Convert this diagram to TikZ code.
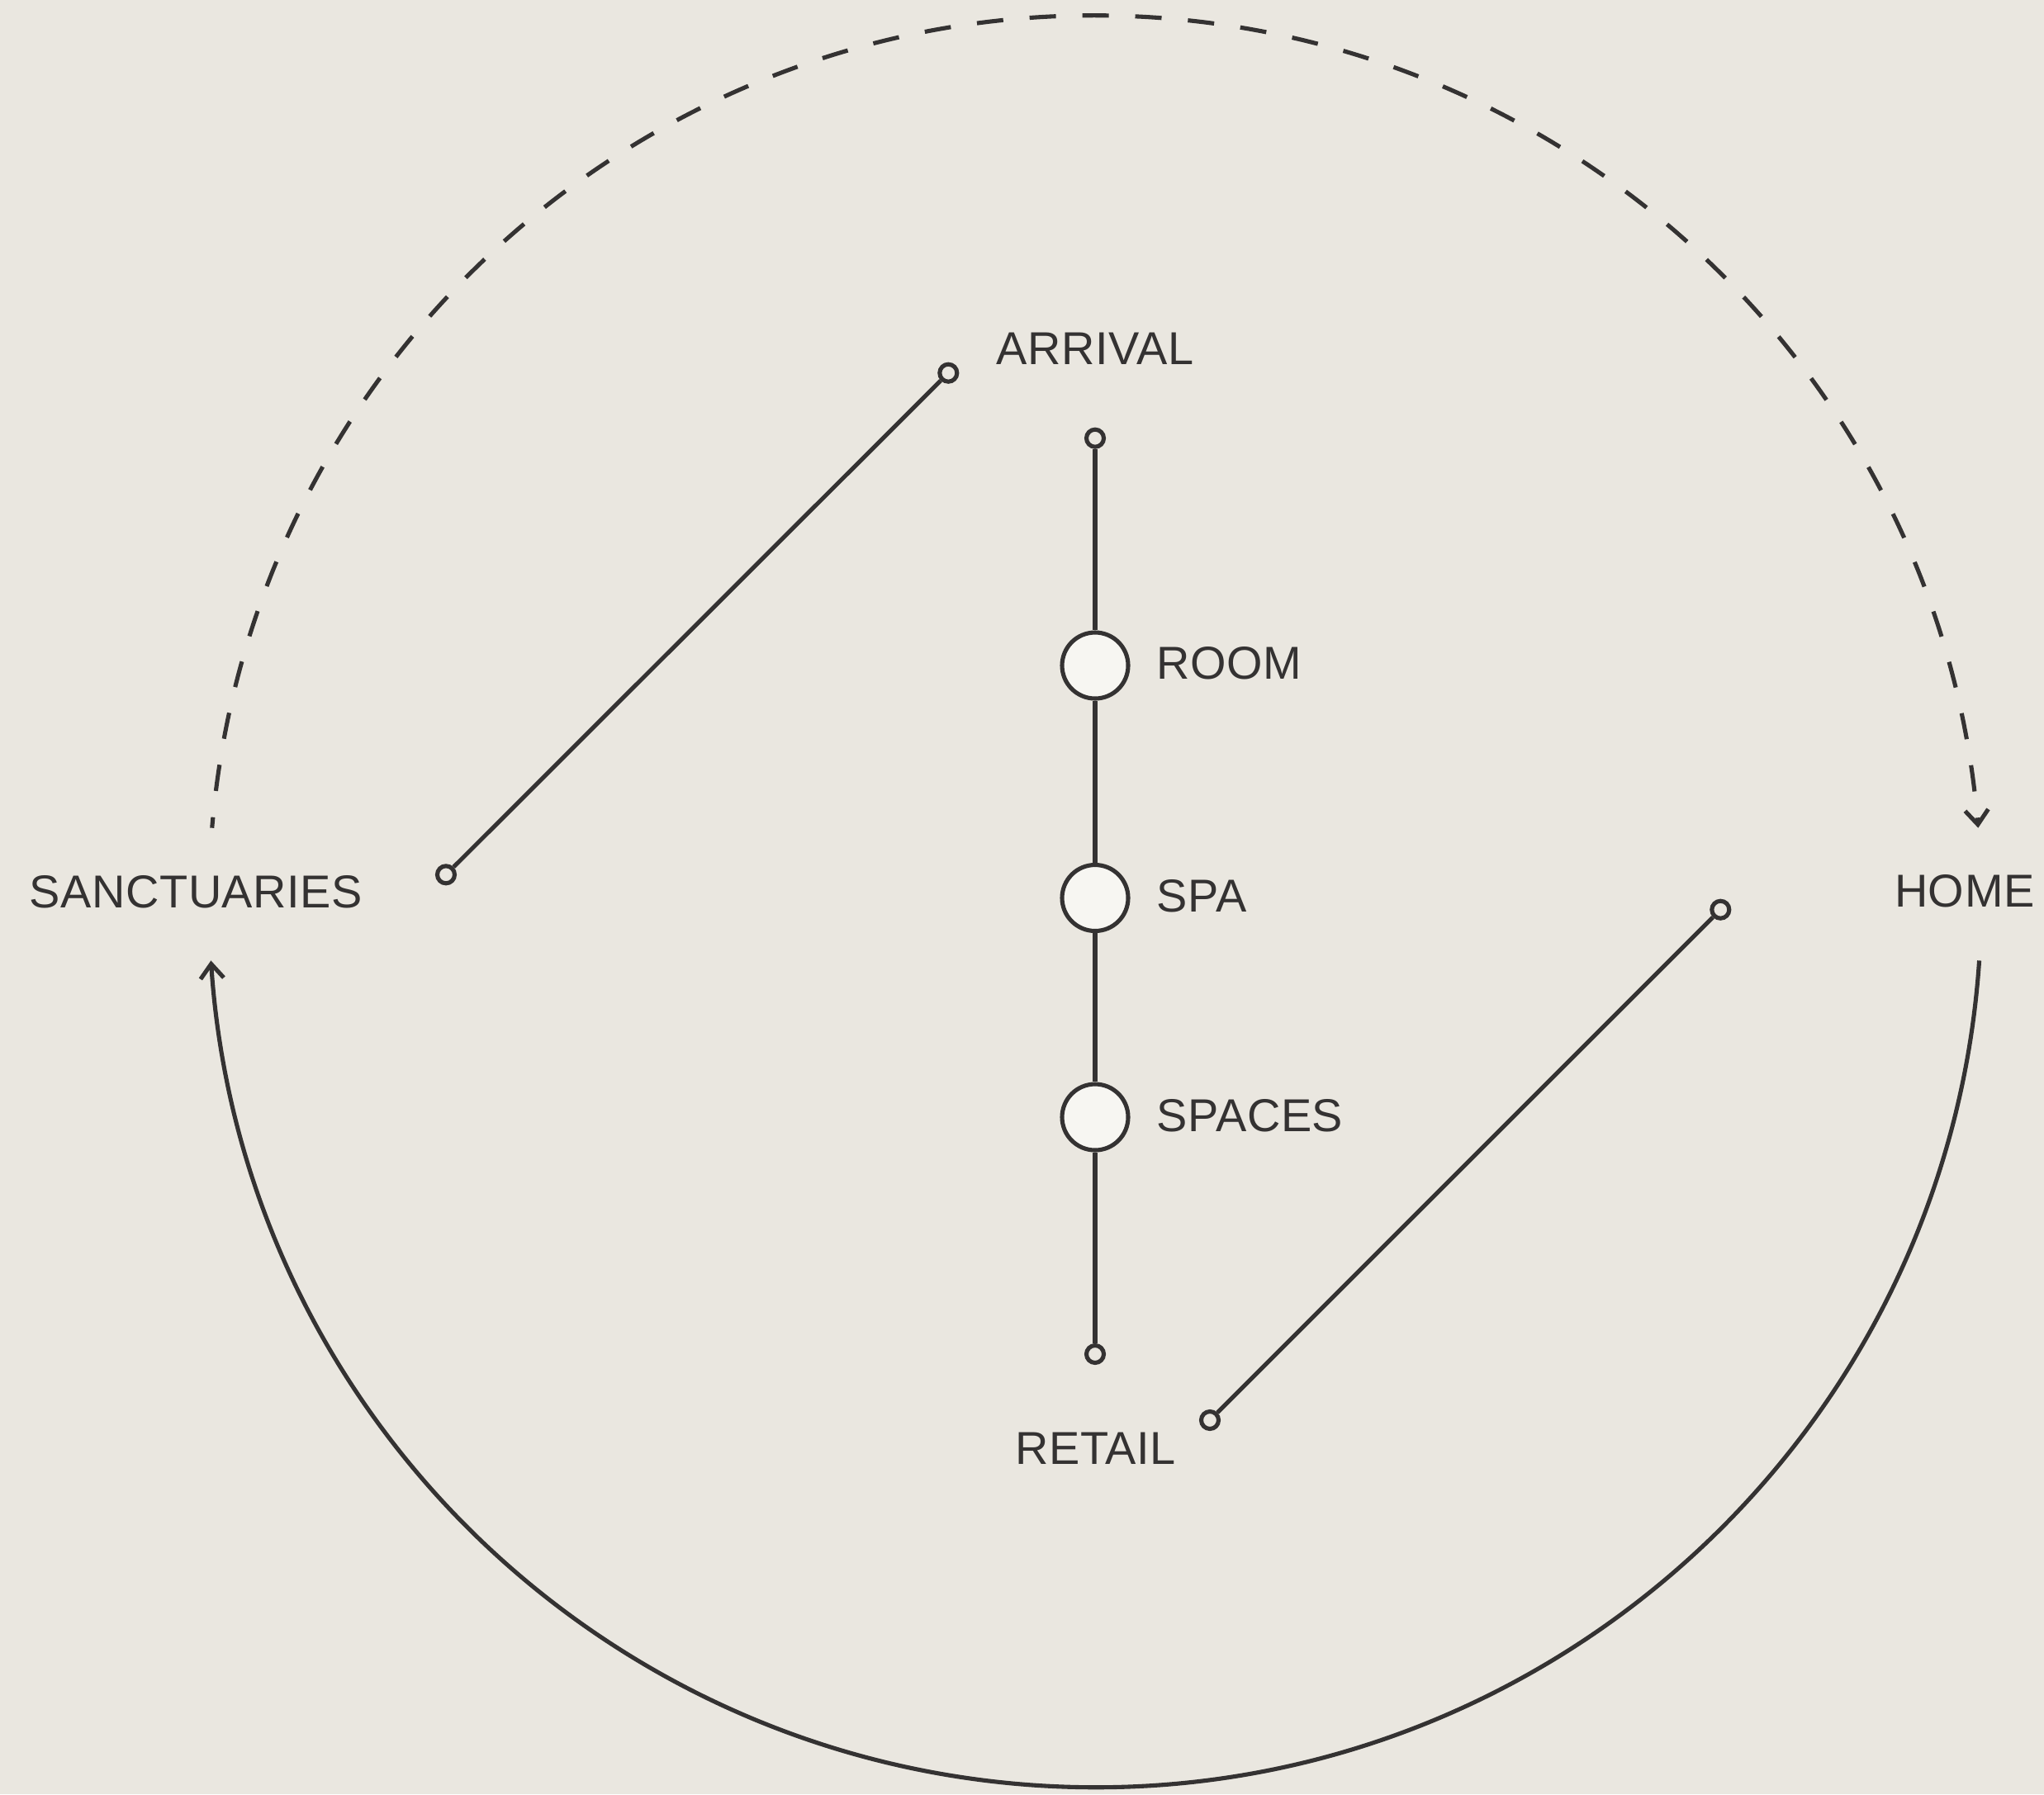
\documentclass[tikz,border=0pt]{standalone}
\usepackage{fontspec}
\setmainfont[LetterSpace=1.1]{Liberation Sans}
\usetikzlibrary{positioning, arrows.meta}

\definecolor{ink}{RGB}{52,50,50}
\definecolor{paper}{RGB}{234,231,224}
\definecolor{pearl}{RGB}{247,246,242}

\begin{document}
\begin{tikzpicture}[
  line width=1.45pt, color=ink,
  station/.style={circle, draw=ink, fill=pearl, minimum size=0.8cm, inner sep=0pt},
  enddot/.style={circle, draw=ink, fill=paper, minimum size=0.21cm, inner sep=0pt},
  lbl/.style={font=\fontsize{15.9}{19}\selectfont, text=ink, inner sep=0pt},
  arrowed/.style={-{Straight Barb[length=5pt, width=8pt]}},
  loopdash/.style={dash pattern=on 0.32cm off 0.32cm, dash phase=0.19cm},
]
  % Canvas
  \fill[paper] (0,0) rectangle (24.75,-21.73);
  \useasboundingbox (0,0) rectangle (24.75,-21.73);
  \coordinate (c) at (13.26,-10.917);

  % Spine of stations
  \node[enddot]  (dtop) at (13.26,-5.307) {};
  \node[station] (room) at (13.26,-8.06)  {};
  \node[station] (spa)  at (13.26,-10.875) {};
  \node[station] (spc)  at (13.26,-13.53) {};
  \node[enddot]  (dbot) at (13.26,-16.40) {};
  \draw (dtop) -- (room) -- (spa) -- (spc) -- (dbot);

  % Station labels
  \node[lbl, anchor=base west] (troom) at (13.98,-8.227)  {ROOM};
  \node[lbl, anchor=base west] (tspa)  at (13.98,-11.045) {SPA};
  \node[lbl, anchor=base west] (tspc)  at (13.98,-13.70)  {SPACES};
  \node[lbl, anchor=base] (tarr) at (13.26,-4.417) {ARRIVAL};
  \node[lbl, anchor=base] (tret) at (13.265,-17.73) {RETAIL};

  % Outer labels
  \node[lbl, anchor=base west] (tsanc) at (0.33,-10.99)  {SANCTUARIES};
  \node[lbl, anchor=base east] (thome) at (24.66,-10.98) {HOME};

  % Diagonal links
  \node[enddot] (darr)  at (11.483,-4.517) {};
  \node[enddot] (dsanc) at (5.40,-10.593)  {};
  \node[enddot] (dret)  at (14.65,-17.20)  {};
  \node[enddot] (dhome) at (20.833,-11.017) {};
  \draw (dsanc) -- (darr);
  \draw (dret) -- (dhome);

  % Loop arcs
  \draw[loopdash, arrowed] ([shift={(175.24:10.73)}]c)
    arc[start angle=175.24, end angle=4.76, radius=10.73];
  \draw[arrowed] ([shift={(-3.83:10.73)}]c)
    arc[start angle=-3.83, end angle=-176.17, radius=10.73];

\end{tikzpicture}
\end{document}
